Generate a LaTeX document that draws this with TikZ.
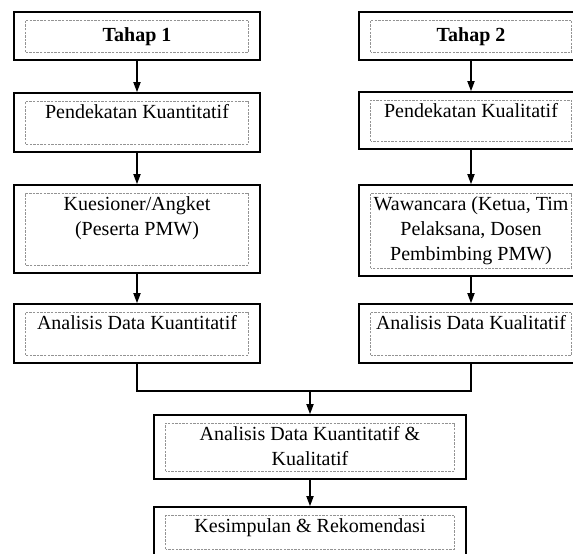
\documentclass[tikz,border=0pt]{standalone}
\usepackage{fontspec}
\setmainfont{Liberation Serif}
\usepackage{tikz}
\usetikzlibrary{arrows.meta}

% text block of a stage: width, height, top aligned by default
\newcommand{\boxtext}[4][t]{\parbox[c][#3][#1]{#2}{\centering\strut #4}}

\begin{document}
\begin{tikzpicture}[
  x=0.5pt, y=-0.5pt,
  stage/.style={draw, line width=0.9pt, inner xsep=5.75pt, inner ysep=4pt,
    font=\fontsize{10}{12.5}\selectfont,
    path picture={\draw[gray!85, dash pattern=on 1.2pt off 0.6pt, line width=0.4pt]
      ([xshift=5.75pt,yshift=4pt]path picture bounding box.south west) rectangle
      ([xshift=-5.75pt,yshift=-4pt]path picture bounding box.north east);}},
  arr/.style={-{Triangle[length=5pt,width=3.6pt]}, line width=0.6pt},
  link/.style={line width=0.6pt},
]
\useasboundingbox (0,0) rectangle (573,553);

% Tahap 1
\node[stage] (t1) at (137,36) {\boxtext[c]{111.5pt}{16pt}{\textbf{Tahap 1}}};
\node[stage] (kuan) at (137,122.5) {\boxtext{111.5pt}{21.5pt}{Pendekatan Kuantitatif}};
\node[stage] (angket) at (137,229) {\boxtext{111.5pt}{36pt}{Kuesioner/Angket\\(Peserta PMW)}};
\node[stage] (adkuan) at (137,333.5) {\boxtext{111.5pt}{21.5pt}{Analisis Data Kuantitatif}};
\draw[arr] (t1) -- (kuan);
\draw[arr] (kuan) -- (angket);
\draw[arr] (angket) -- (adkuan);

% Tahap 2
\node[stage] (t2) at (471,36) {\boxtext[c]{100.5pt}{16pt}{\textbf{Tahap 2}}};
\node[stage] (kual) at (471,120.5) {\boxtext{100.5pt}{20.5pt}{Pendekatan Kualitatif}};
\node[stage] (wawan) at (471,230.5) {\boxtext{100.5pt}{37.5pt}{Wawancara (Ketua, Tim\\Pelaksana, Dosen\\Pembimbing PMW)}};
\node[stage] (adkual) at (471,333.5) {\boxtext{100.5pt}{21.5pt}{Analisis Data Kualitatif}};
\draw[arr] (t2) -- (kual);
\draw[arr] (kual) -- (wawan);
\draw[arr] (wawan) -- (adkual);

% Gabungan
\coordinate (join) at (310,391);
\node[stage] (adgab) at (310,447) {\boxtext{144.5pt}{24pt}{Analisis Data Kuantitatif \&\\Kualitatif}};
\node[stage] (simpul) at (310,532) {\boxtext{144.5pt}{17pt}{Kesimpulan \& Rekomendasi}};
\draw[link] (adkuan.south) |- (join) -| (adkual.south);
\draw[arr] (join) -- (adgab.north);
\draw[arr] (adgab) -- (simpul);
\end{tikzpicture}
\end{document}
